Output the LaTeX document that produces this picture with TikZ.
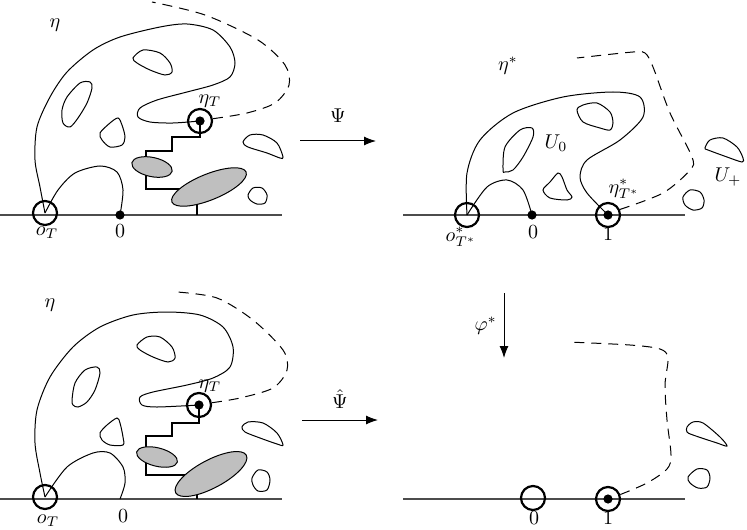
\documentclass[tikz,border=0pt]{standalone}
\usetikzlibrary{positioning,arrows.meta}
\begin{document}
\begin{tikzpicture}[x=0.5pt, y=-0.5pt,
    etacurve/.style={line width=0.5pt},
    etadash/.style={line width=0.5pt, dash pattern=on 5pt off 3.5pt},
    blob/.style={line width=0.5pt},
    lump/.style={draw, line width=0.5pt, fill=lightgray},
    stair/.style={line width=0.9pt},
    axis/.style={line width=0.6pt, black!70},
    ring/.style={draw, circle, line width=1.1pt, minimum size=12pt, inner sep=0pt},
    dot/.style={fill, circle, minimum size=4.6pt, inner sep=0pt},
    map/.style={line width=0.5pt, -{Latex[length=6pt,width=4.5pt]}}]
\useasboundingbox (0,0) rectangle (747,529);

% Top left: eta up to time T
\draw[axis] (0,215) -- (282,215);
\node[ring] (oT) at (45,213) {};
\node[dot] (zeroA) at (120,215) {};
\node[ring] (etaT) at (200,121) {};
\node[dot] (tipA) at (etaT.center) {};
\node (lblEtaA) at (55,25) {$\eta$};
\node (lblEtaTA) at (210,101) {$\eta_T$};
\node (lblOTA) at (47,233) {$o_T$};
\node (lblZeroA) at (120,231) {$0$};

\draw[etacurve] plot[smooth] coordinates {(oT.center) (40,187) (35,160) (37,127)
  (50,97) (67,72) (93,50) (120,37) (160,27) (187,24) (213,30) (230,47) (235,63)
  (230,77) (213,85) (187,92) (157,100) (140,108) (138,117) (150,122) (173,123)
  (etaT.center)};
\draw[etacurve] plot[smooth] coordinates {(oT.center) (58,190) (75,173) (100,166)
  (117,172) (123,190) (zeroA.center)};
\draw[etadash] plot[smooth] coordinates {(etaT.10) (247,113) (275,103) (289,85)
  (285,65) (258,40) (205,15) (152,2)};

% islands
\draw[blob] plot[smooth cycle] coordinates {(133,58) (143,50) (160,53) (170,63)
  (172,72) (165,75) (150,70) (137,63)};
\draw[blob] plot[smooth cycle] coordinates {(62,110) (67,97) (80,83) (90,82)
  (92,88) (87,103) (78,118) (70,127) (63,123)};
\draw[blob] plot[smooth cycle] coordinates {(100,133) (110,123) (118,118) (122,125)
  (125,137) (122,145) (110,147) (102,140)};
\draw[blob] plot[smooth cycle] coordinates {(243,142) (250,135) (263,135) (277,143)
  (283,157) (280,158) (267,153) (248,147)};
\draw[blob] plot[smooth cycle] coordinates {(248,195) (253,188) (262,188) (267,195)
  (265,203) (257,204) (250,200)};

% path to the grey hulls
\draw[stair] (etaT.center) |- (172,137) |- (146,151) |- (184,189);
\draw[line width=0.6pt] (197,200) -- (197,215);
\draw[lump, rotate around={-12:(152,167)}] (152,167) ellipse [x radius=10.3pt, y radius=4.8pt];
\draw[lump, rotate around={22:(209,187)}] (209,187) ellipse [x radius=20pt, y radius=6.5pt];

% Psi
\coordinate (psiA) at (300,141);
\coordinate (psiB) at (376,141);
\draw[map] (psiA) -- (psiB) node[midway, above=5.5pt] {$\Psi$};

% Top right: image under Psi
\draw[axis] (403,215) -- (685,215);
\node[ring] (oStar) at (467,215) {};
\node[dot] (zeroB) at (532,215) {};
\node[ring] (oneA) at (608,215) {};
\node[dot] (tipB) at (oneA.center) {};
\node (lblEtaS) at (508,66) {$\eta^*$};
\node (lblUzero) at (556,143) {$U_0$};
\node (lblUplus) at (728,177) {$U_+$};
\node (lblEtaTS) at (624,189) {$\eta^*_{T^*}$};
\node (lblOTS) at (461,237) {$o^*_{T^*}$};
\node (lblZeroB) at (533,232) {$0$};
\node (lblOneA) at (608,234) {$1$};

\draw[etacurve] plot[smooth] coordinates {(oStar.center) (467,173) (480,140)
  (513,113) (563,97) (613,92) (640,97) (643,117) (620,140) (587,160) (580,177)
  (587,193) (oneA.center)};
\draw[etacurve] plot[smooth] coordinates {(oStar.center) (487,187) (507,180)
  (523,190) (zeroB.center)};
\draw[etadash] plot[smooth] coordinates {(oneA.25) (663,193) (690,170) (692,157)
  (670,113) (653,67) (645,53) (633,52) (577,58)};

\draw[blob] plot[smooth cycle] coordinates {(503,170) (505,147) (520,130) (532,128)
  (533,137) (523,157) (513,170) (505,172)};
\draw[blob] plot[smooth cycle] coordinates {(577,110) (583,105) (597,103) (610,112)
  (613,123) (610,130) (600,128) (583,122)};
\draw[blob] plot[smooth cycle] coordinates {(543,190) (550,182) (558,173) (562,177)
  (567,190) (572,197) (567,200) (550,198)};
\draw[blob] plot[smooth cycle] coordinates {(705,148) (710,140) (723,138) (737,147)
  (743,158) (742,162) (727,157) (708,150)};
\draw[blob] plot[smooth cycle] coordinates {(683,197) (690,190) (700,192) (704,200)
  (702,208) (693,210) (685,205)};

% phi star
\coordinate (phiA) at (504,293);
\coordinate (phiB) at (504,358);
\draw[map] (phiA) -- (phiB) node[midway, left=0pt] {$\varphi^*$};

% Bottom left: eta again
\draw[axis] (0,499) -- (282,499);
\node[ring] (oTB) at (45,497) {};
\coordinate (zeroC) at (120,499);
\node[ring] (etaTB) at (199,405) {};
\node[dot] (tipD) at (etaTB.center) {};
\node (lblEtaB) at (50,305) {$\eta$};
\node (lblEtaTB) at (210,386) {$\eta_T$};
\node (lblOTB) at (48,521) {$o_T$};
\node (lblZeroC) at (123,516) {$0$};

\draw[etacurve] plot[smooth] coordinates {(oTB.center) (40,473) (35,443) (37,410)
  (50,377) (73,347) (100,327) (133,315) (167,312) (200,315) (223,327) (233,347)
  (230,367) (213,378) (187,385) (153,392) (140,397) (142,405) (157,407)
  (etaTB.center)};
\draw[etacurve] plot[smooth] coordinates {(oTB.center) (67,467) (93,453) (110,453)
  (123,467) (125,483) (zeroC)};
\draw[etadash] plot[smooth] coordinates {(etaTB.10) (240,398) (273,388) (287,370)
  (283,350) (253,320) (217,298) (177,292)};

\draw[blob] plot[smooth cycle] coordinates {(137,345) (147,337) (160,337) (172,347)
  (175,358) (168,362) (153,357) (140,350)};
\draw[blob] plot[smooth cycle] coordinates {(72,400) (75,383) (85,370) (97,367)
  (100,373) (95,390) (87,402) (78,407) (73,405)};
\draw[blob] plot[smooth cycle] coordinates {(100,433) (107,425) (117,418) (120,423)
  (123,437) (123,445) (110,445) (102,440)};
\draw[blob] plot[smooth cycle] coordinates {(242,427) (248,422) (263,423) (277,433)
  (283,445) (277,444) (260,438) (245,432)};
\draw[blob] plot[smooth cycle] coordinates {(252,478) (258,470) (267,472) (270,480)
  (267,490) (258,491) (253,485)};

\draw[stair] (etaTB.center) |- (172,423) |- (146,436) |- (188,475);
\draw[line width=0.6pt] (197,488) -- (197,499);
\draw[lump, rotate around={-14:(157,457)}] (157,457) ellipse [x radius=10.5pt, y radius=4.6pt];
\draw[lump, rotate around={28:(211,474)}] (211,474) ellipse [x radius=20pt, y radius=7pt];

% Psi hat
\coordinate (psiHatA) at (302,420);
\coordinate (psiHatB) at (378,420);
\draw[map] (psiHatA) -- (psiHatB) node[midway, above=2pt] {$\hat\Psi$};

% Bottom right: after phi star
\draw[axis] (403,499) -- (685,499);
\node[ring] (zeroD) at (533,498) {};
\node[ring] (oneB) at (608,499) {};
\node[dot] (tipC) at (oneB.center) {};
\node (lblZeroD) at (534,518) {$0$};
\node (lblOneB) at (608,518) {$1$};

\draw[etadash] plot[smooth] coordinates {(oneB.20) (647,483) (667,469) (671,455)
  (667,420) (665,385) (668,358) (660,349) (630,345) (568,342)};

\draw[blob] plot[smooth cycle] coordinates {(687,427) (693,422) (703,423) (720,437)
  (727,446) (717,443) (693,435) (687,432)};
\draw[blob] plot[smooth cycle] coordinates {(688,477) (697,469) (707,470) (710,478)
  (707,487) (698,488) (690,483)};

\end{tikzpicture}
\end{document}
